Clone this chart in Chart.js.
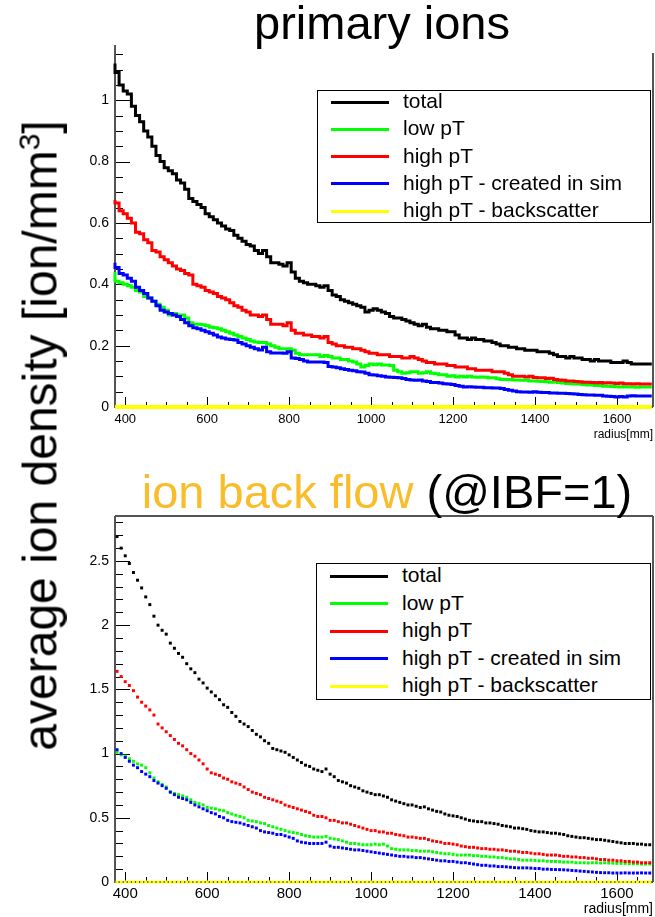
<!DOCTYPE html>
<html>
<head>
<meta charset="utf-8">
<script src="https://cdn.jsdelivr.net/npm/chart.js@4.4.1/dist/chart.umd.min.js"></script>
<style>
  html, body { margin: 0; padding: 0; background: #fff; }
  body { width: 655px; height: 917px; position: relative; overflow: hidden; font-family: "Liberation Sans", Arial, sans-serif; color: #000; }
  canvas { position: absolute; left: 0; }
  #c1 { top: 0; }
  #c2 { top: 460px; }
  .title { position: absolute; width: 800px; text-align: center; font-size: 47px; line-height: 47px; white-space: nowrap; }
  #ylab { position: absolute; width: 700px; left: -310px; top: 412px; text-align: center; font-size: 48px; line-height: 47px; transform: rotate(-90deg); white-space: nowrap; }
  #ylab sup { font-size: 30px; line-height: 0; vertical-align: 17px; }
  .legend { position: absolute; border: 1px solid #000; background: #fff; box-sizing: border-box; }
  .legend .sw { position: absolute; left: 13px; width: 58px; height: 3px; }
  .legend .tx { position: absolute; left: 85px; font-size: 21px; line-height: 24px; white-space: nowrap; }
</style>
</head>
<body>
<canvas id="c1" width="655" height="445"></canvas>
<canvas id="c2" width="655" height="457"></canvas>
<div class="title" style="left:-18px; top:-1px;">primary ions</div>
<div class="title" style="left:-13px; top:468px;"><span style="color:#f9bd2b">ion back flow</span> (@IBF=1)</div>
<div id="ylab">average ion density [ion/mm<sup>3</sup>]</div>
<div class="legend" id="leg1" style="left:317px; top:90px; width:334px; height:133px;"></div>
<div class="legend" id="leg2" style="left:316px; top:563px; width:335px; height:137px;"></div>
<script>
// bins: 10 mm wide, centres 380 .. 1680
const binStart = 380, binWidth = 10, nBins = 131;
const radius = Array.from({ length: nBins }, (_, i) => binStart + i * binWidth);

const seriesNames = ['total', 'low pT', 'high pT', 'high pT - created in sim', 'high pT - backscatter'];
const seriesColors = ['#000000', '#00ff00', '#ff0000', '#0000ff', '#ffff00'];

const xTicks = [400, 600, 800, 1000, 1200, 1400, 1600];
const yTicksPrimary = [0, 0.2, 0.4, 0.6, 0.8, 1];
const yTicksIbf = [0, 0.5, 1, 1.5, 2, 2.5];

// primary ions
const totalPrimary = [
  1.12, 1.09, 1.05, 1.03, 1.02, 0.98, 0.95, 0.93, 0.90, 0.88,
  0.85, 0.82, 0.80, 0.78, 0.77, 0.76, 0.74, 0.73, 0.71, 0.68,
  0.67, 0.66, 0.65, 0.63, 0.62, 0.61, 0.60, 0.59, 0.58, 0.575,
  0.56, 0.55, 0.54, 0.53, 0.525, 0.51, 0.50, 0.51, 0.49, 0.47,
  0.47, 0.465, 0.46, 0.47, 0.44, 0.42, 0.41, 0.405, 0.40, 0.40,
  0.395, 0.39, 0.395, 0.38, 0.365, 0.36, 0.35, 0.345, 0.34, 0.335,
  0.33, 0.325, 0.31, 0.315, 0.32, 0.315, 0.31, 0.305, 0.295, 0.29,
  0.29, 0.285, 0.28, 0.275, 0.27, 0.265, 0.27, 0.26, 0.255, 0.255,
  0.25, 0.25, 0.245, 0.245, 0.235, 0.225, 0.225, 0.22, 0.225, 0.22,
  0.22, 0.215, 0.215, 0.21, 0.205, 0.20, 0.20, 0.195, 0.195, 0.19,
  0.19, 0.185, 0.185, 0.185, 0.18, 0.18, 0.18, 0.175, 0.17, 0.165,
  0.165, 0.16, 0.165, 0.16, 0.16, 0.155, 0.155, 0.15, 0.155, 0.15,
  0.15, 0.15, 0.145, 0.145, 0.145, 0.15, 0.145, 0.14, 0.14, 0.14,
  0.14
];
const lowPtPrimary = [
  0.44, 0.41, 0.405, 0.40, 0.395, 0.39, 0.38, 0.375, 0.36, 0.355,
  0.345, 0.335, 0.325, 0.315, 0.30, 0.305, 0.30, 0.30, 0.29, 0.275,
  0.27, 0.27, 0.268, 0.265, 0.26, 0.258, 0.255, 0.25, 0.245, 0.24,
  0.235, 0.23, 0.225, 0.22, 0.215, 0.212, 0.21, 0.21, 0.205, 0.20,
  0.195, 0.19, 0.19, 0.19, 0.185, 0.175, 0.17, 0.17, 0.17, 0.17,
  0.17, 0.165, 0.168, 0.165, 0.16, 0.16, 0.155, 0.155, 0.15, 0.147,
  0.14, 0.13, 0.135, 0.14, 0.138, 0.14, 0.137, 0.137, 0.135, 0.12,
  0.115, 0.11, 0.112, 0.115, 0.115, 0.11, 0.112, 0.115, 0.11, 0.108,
  0.105, 0.105, 0.10, 0.102, 0.098, 0.10, 0.098, 0.10, 0.098, 0.097,
  0.098, 0.097, 0.095, 0.095, 0.092, 0.09, 0.09, 0.09, 0.088, 0.088,
  0.087, 0.087, 0.085, 0.085, 0.084, 0.083, 0.082, 0.081, 0.082, 0.08,
  0.078, 0.077, 0.076, 0.075, 0.075, 0.073, 0.072, 0.072, 0.07, 0.07,
  0.068, 0.068, 0.067, 0.066, 0.065, 0.066, 0.065, 0.065, 0.064, 0.065,
  0.065
];
const highPtPrimary = [
  0.675, 0.665, 0.64, 0.63, 0.615, 0.60, 0.57, 0.565, 0.545, 0.535,
  0.51, 0.505, 0.49, 0.48, 0.47, 0.46, 0.45, 0.445, 0.435, 0.43,
  0.40, 0.395, 0.39, 0.38, 0.375, 0.37, 0.36, 0.355, 0.35, 0.34,
  0.33, 0.325, 0.315, 0.31, 0.30, 0.30, 0.295, 0.30, 0.285, 0.27,
  0.27, 0.27, 0.265, 0.275, 0.25, 0.24, 0.24, 0.235, 0.235, 0.23,
  0.23, 0.225, 0.23, 0.21, 0.205, 0.20, 0.20, 0.195, 0.195, 0.19,
  0.19, 0.185, 0.18, 0.175, 0.175, 0.17, 0.17, 0.17, 0.165, 0.165,
  0.165, 0.16, 0.16, 0.165, 0.16, 0.155, 0.15, 0.145, 0.145, 0.14,
  0.14, 0.14, 0.135, 0.135, 0.13, 0.13, 0.13, 0.125, 0.125, 0.12,
  0.12, 0.12, 0.12, 0.115, 0.115, 0.115, 0.11, 0.105, 0.10, 0.10,
  0.10, 0.098, 0.10, 0.096, 0.095, 0.095, 0.093, 0.094, 0.09, 0.088,
  0.087, 0.085, 0.085, 0.083, 0.082, 0.081, 0.081, 0.08, 0.079, 0.08,
  0.078, 0.079, 0.078, 0.077, 0.078, 0.076, 0.076, 0.075, 0.076, 0.075,
  0.075
];
const createdPrimary = [
  0.47, 0.455, 0.435, 0.43, 0.42, 0.41, 0.39, 0.38, 0.37, 0.355,
  0.345, 0.33, 0.315, 0.31, 0.305, 0.30, 0.295, 0.285, 0.275, 0.265,
  0.258, 0.255, 0.25, 0.245, 0.24, 0.235, 0.228, 0.225, 0.222, 0.22,
  0.218, 0.21, 0.205, 0.20, 0.195, 0.19, 0.186, 0.195, 0.18, 0.176,
  0.176, 0.176, 0.175, 0.18, 0.16, 0.158, 0.155, 0.15, 0.147, 0.147,
  0.147, 0.147, 0.145, 0.132, 0.13, 0.128, 0.125, 0.122, 0.12, 0.118,
  0.115, 0.114, 0.11, 0.105, 0.104, 0.102, 0.10, 0.098, 0.097, 0.096,
  0.095, 0.093, 0.09, 0.088, 0.087, 0.088, 0.085, 0.083, 0.08, 0.08,
  0.078, 0.076, 0.075, 0.073, 0.07, 0.068, 0.065, 0.066, 0.065, 0.064,
  0.064, 0.063, 0.063, 0.062, 0.062, 0.06, 0.057, 0.055, 0.052, 0.05,
  0.049, 0.049, 0.048, 0.05, 0.048, 0.047, 0.047, 0.046, 0.046, 0.045,
  0.045, 0.044, 0.043, 0.042, 0.041, 0.04, 0.039, 0.039, 0.038, 0.038,
  0.036, 0.035, 0.034, 0.033, 0.034, 0.033, 0.036, 0.037, 0.036, 0.036,
  0.036
];
const backscatterPrimary = [
  0, 0, 0, 0, 0, 0, 0, 0, 0, 0,
  0, 0, 0, 0, 0, 0, 0, 0, 0, 0,
  0, 0, 0, 0, 0, 0, 0, 0, 0, 0,
  0, 0, 0, 0, 0, 0, 0, 0, 0, 0,
  0, 0, 0, 0, 0, 0, 0, 0, 0, 0,
  0, 0, 0, 0, 0, 0, 0, 0, 0, 0,
  0, 0, 0, 0, 0, 0, 0, 0, 0, 0,
  0, 0, 0, 0, 0, 0, 0, 0, 0, 0,
  0, 0, 0, 0, 0, 0, 0, 0, 0, 0,
  0, 0, 0, 0, 0, 0, 0, 0, 0, 0,
  0, 0, 0, 0, 0, 0, 0, 0, 0, 0,
  0, 0, 0, 0, 0, 0, 0, 0, 0, 0,
  0, 0, 0, 0, 0, 0, 0, 0, 0, 0,
  0
];

// ion back flow (@IBF=1)
const totalIbf = [
  2.69, 2.60, 2.54, 2.48, 2.41, 2.35, 2.29, 2.22, 2.16, 2.07,
  2.00, 1.96, 1.93, 1.86, 1.82, 1.78, 1.75, 1.70, 1.66, 1.63,
  1.58, 1.55, 1.51, 1.48, 1.45, 1.42, 1.38, 1.36, 1.32, 1.29,
  1.25, 1.23, 1.21, 1.18, 1.15, 1.13, 1.10, 1.08, 1.04, 1.03,
  1.02, 1.01, 0.99, 0.97, 0.95, 0.93, 0.91, 0.90, 0.88, 0.87,
  0.86, 0.88, 0.84, 0.82, 0.79, 0.78, 0.77, 0.75, 0.74, 0.73,
  0.71, 0.70, 0.69, 0.68, 0.68, 0.67, 0.66, 0.64, 0.63, 0.62,
  0.61, 0.60, 0.60, 0.59, 0.58, 0.585, 0.57, 0.56, 0.55, 0.545,
  0.53, 0.52, 0.515, 0.51, 0.50, 0.49, 0.48, 0.475, 0.47, 0.47,
  0.46, 0.46, 0.455, 0.45, 0.44, 0.435, 0.43, 0.42, 0.42, 0.415,
  0.41, 0.40, 0.395, 0.39, 0.39, 0.385, 0.38, 0.38, 0.375, 0.37,
  0.36, 0.355, 0.35, 0.345, 0.345, 0.34, 0.335, 0.33, 0.33, 0.325,
  0.32, 0.315, 0.31, 0.305, 0.30, 0.30, 0.30, 0.295, 0.295, 0.29,
  0.29
];
const lowPtIbf = [
  1.01, 0.99, 0.98, 0.96, 0.94, 0.92, 0.91, 0.89, 0.85, 0.81,
  0.78, 0.76, 0.74, 0.70, 0.69, 0.68, 0.67, 0.66, 0.64, 0.62,
  0.61, 0.60, 0.58, 0.575, 0.57, 0.56, 0.555, 0.54, 0.53, 0.52,
  0.51, 0.50, 0.48, 0.475, 0.47, 0.46, 0.455, 0.44, 0.43, 0.42,
  0.41, 0.40, 0.39, 0.385, 0.38, 0.37, 0.36, 0.355, 0.35, 0.35,
  0.35, 0.355, 0.34, 0.335, 0.33, 0.32, 0.31, 0.30, 0.30, 0.295,
  0.29, 0.29, 0.29, 0.295, 0.29, 0.295, 0.28, 0.26, 0.255, 0.25,
  0.25, 0.25, 0.245, 0.245, 0.24, 0.24, 0.24, 0.235, 0.23, 0.225,
  0.22, 0.22, 0.215, 0.21, 0.21, 0.21, 0.21, 0.205, 0.205, 0.20,
  0.20, 0.195, 0.195, 0.19, 0.19, 0.185, 0.18, 0.18, 0.175, 0.17,
  0.17, 0.17, 0.168, 0.165, 0.165, 0.162, 0.16, 0.16, 0.158, 0.155,
  0.155, 0.155, 0.15, 0.15, 0.15, 0.148, 0.15, 0.15, 0.148, 0.15,
  0.148, 0.147, 0.145, 0.145, 0.145, 0.143, 0.142, 0.142, 0.14, 0.14,
  0.14
];
const highPtIbf = [
  1.64, 1.60, 1.56, 1.53, 1.49, 1.44, 1.40, 1.37, 1.34, 1.30,
  1.23, 1.20, 1.17, 1.14, 1.11, 1.08, 1.06, 1.03, 1.00, 0.98,
  0.95, 0.92, 0.88, 0.85, 0.84, 0.83, 0.81, 0.80, 0.78, 0.77,
  0.76, 0.74, 0.72, 0.70, 0.69, 0.68, 0.66, 0.65, 0.64, 0.63,
  0.62, 0.60, 0.59, 0.58, 0.57, 0.56, 0.55, 0.54, 0.52, 0.51,
  0.51, 0.50, 0.48, 0.48, 0.47, 0.46, 0.46, 0.45, 0.44, 0.43,
  0.42, 0.41, 0.40, 0.40, 0.39, 0.39, 0.38, 0.38, 0.37, 0.365,
  0.36, 0.35, 0.35, 0.345, 0.34, 0.34, 0.33, 0.32, 0.315, 0.31,
  0.30, 0.30, 0.295, 0.29, 0.28, 0.275, 0.27, 0.27, 0.265, 0.26,
  0.26, 0.255, 0.255, 0.25, 0.25, 0.245, 0.24, 0.24, 0.235, 0.23,
  0.23, 0.225, 0.22, 0.22, 0.215, 0.21, 0.21, 0.21, 0.205, 0.20,
  0.20, 0.195, 0.195, 0.19, 0.19, 0.185, 0.185, 0.18, 0.175, 0.175,
  0.17, 0.17, 0.165, 0.165, 0.16, 0.16, 0.155, 0.155, 0.15, 0.15,
  0.15
];
const createdIbf = [
  1.03, 1.00, 0.97, 0.94, 0.91, 0.89, 0.86, 0.84, 0.82, 0.79,
  0.77, 0.75, 0.73, 0.70, 0.68, 0.66, 0.65, 0.64, 0.62, 0.60,
  0.585, 0.57, 0.555, 0.54, 0.53, 0.51, 0.50, 0.48, 0.47, 0.465,
  0.46, 0.45, 0.44, 0.43, 0.42, 0.40, 0.39, 0.385, 0.38, 0.37,
  0.37, 0.36, 0.35, 0.34, 0.32, 0.31, 0.305, 0.30, 0.30, 0.30,
  0.30, 0.31, 0.28, 0.27, 0.27, 0.265, 0.26, 0.255, 0.25, 0.25,
  0.245, 0.24, 0.235, 0.23, 0.225, 0.22, 0.215, 0.21, 0.205, 0.20,
  0.20, 0.195, 0.195, 0.19, 0.19, 0.185, 0.18, 0.175, 0.17, 0.165,
  0.165, 0.16, 0.16, 0.155, 0.15, 0.15, 0.145, 0.14, 0.135, 0.13,
  0.13, 0.125, 0.125, 0.12, 0.12, 0.118, 0.115, 0.112, 0.11, 0.11,
  0.11, 0.108, 0.105, 0.105, 0.10, 0.10, 0.098, 0.097, 0.096, 0.095,
  0.093, 0.09, 0.088, 0.085, 0.083, 0.08, 0.078, 0.075, 0.073, 0.072,
  0.072, 0.07, 0.07, 0.07, 0.071, 0.07, 0.07, 0.07, 0.071, 0.07,
  0.07
];
const backscatterIbf = [
  0, 0, 0, 0, 0, 0, 0, 0, 0, 0,
  0, 0, 0, 0, 0, 0, 0, 0, 0, 0,
  0, 0, 0, 0, 0, 0, 0, 0, 0, 0,
  0, 0, 0, 0, 0, 0, 0, 0, 0, 0,
  0, 0, 0, 0, 0, 0, 0, 0, 0, 0,
  0, 0, 0, 0, 0, 0, 0, 0, 0, 0,
  0, 0, 0, 0, 0, 0, 0, 0, 0, 0,
  0, 0, 0, 0, 0, 0, 0, 0, 0, 0,
  0, 0, 0, 0, 0, 0, 0, 0, 0, 0,
  0, 0, 0, 0, 0, 0, 0, 0, 0, 0,
  0, 0, 0, 0, 0, 0, 0, 0, 0, 0,
  0, 0, 0, 0, 0, 0, 0, 0, 0, 0,
  0, 0, 0, 0, 0, 0, 0, 0, 0, 0,
  0
];

Chart.defaults.font.family = '"Liberation Sans", Arial, sans-serif';
Chart.defaults.color = '#000';

// ROOT style frame: inward ticks, grey border, small axis title at right
const frame = {
  id: 'frame',
  beforeDatasetsDraw(chart, args, o) {
    const { ctx, chartArea: a, scales: { x, y } } = chart;
    ctx.save();
    ctx.strokeStyle = '#000';
    ctx.lineWidth = 1;
    ctx.beginPath();
    const nMinor = Math.floor(y.max / o.yMinor + 1e-6);
    for (let i = 0; i <= nMinor; i++) {
      const py = Math.round(y.getPixelForValue(i * o.yMinor)) + 0.5;
      const len = i % o.yPer === 0 ? 15 : 8;
      ctx.moveTo(a.left, py);
      ctx.lineTo(a.left + len, py);
    }
    for (let v = 400; v <= x.max; v += 50) {
      const px = Math.round(x.getPixelForValue(v)) + 0.5;
      const len = v % 200 === 0 ? 10 : 5;
      ctx.moveTo(px, a.bottom);
      ctx.lineTo(px, a.bottom - len);
    }
    ctx.stroke();

    ctx.strokeStyle = '#555';
    ctx.lineWidth = 2;
    ctx.beginPath();
    ctx.moveTo(a.left, a.top);
    ctx.lineTo(a.left, a.bottom);
    ctx.lineTo(a.right, a.bottom);
    ctx.moveTo(a.right, a.bottom);
    ctx.lineTo(a.right, a.top + (o.top ? 0 : 8));
    if (o.top) {
      ctx.moveTo(a.left, a.top);
      ctx.lineTo(a.right, a.top);
    }
    ctx.stroke();

    ctx.fillStyle = '#000';
    ctx.font = o.rFont + 'px "Liberation Sans", Arial, sans-serif';
    ctx.textAlign = 'right';
    ctx.textBaseline = 'alphabetic';
    ctx.fillText('radius[mm]', a.right, o.rY);
    ctx.restore();
  }
};

function stepData(vals) {
  const pts = radius.map((r, i) => ({ x: r - binWidth / 2, y: vals[i] }));
  pts.push({ x: radius[nBins - 1] + binWidth / 2, y: vals[nBins - 1] });
  return pts;
}
function pointData(vals) {
  return radius.map((r, i) => ({ x: r, y: vals[i] }));
}

function makeChart(id, cfg) {
  const datasets = cfg.series.map((vals, k) => {
    const base = { label: seriesNames[k], order: k === 4 ? 0 : 4 - k, clip: false };
    if (cfg.steps) {
      return Object.assign(base, {
        data: stepData(vals), borderColor: seriesColors[k], borderWidth: k === 4 ? 4 : 3,
        stepped: 'after', pointRadius: 0, fill: false
      });
    }
    return Object.assign(base, {
      data: pointData(vals), showLine: false, pointStyle: 'rect', pointRadius: 2.1,
      pointBackgroundColor: seriesColors[k], pointBorderWidth: 0
    });
  });
  return new Chart(document.getElementById(id), {
    type: 'line',
    data: { datasets },
    options: {
      responsive: false,
      animation: false,
      layout: { autoPadding: false, padding: { left: 65, right: 2, top: cfg.padTop, bottom: 0 } },
      plugins: {
        legend: { display: false },
        tooltip: { enabled: false },
        frame: cfg.frame
      },
      scales: {
        x: {
          type: 'linear', min: 375, max: 1688,
          grid: { display: false, drawTicks: false },
          border: { display: false },
          ticks: { font: { size: cfg.xFont }, padding: cfg.xPad, maxRotation: 0, autoSkip: false, callback: v => String(v) },
          afterBuildTicks: s => { s.ticks = xTicks.map(v => ({ value: v })); },
          afterFit: s => { s.height = cfg.xHeight; }
        },
        y: {
          type: 'linear', min: 0, max: cfg.yMax,
          grid: { display: false, drawTicks: false },
          border: { display: false },
          ticks: { font: { size: 14 }, padding: 6, autoSkip: false, callback: v => String(v) },
          afterBuildTicks: s => { s.ticks = cfg.yTicks.map(v => ({ value: v })); },
          afterFit: s => { s.width = 50; }
        }
      }
    },
    plugins: [frame]
  });
}

makeChart('c1', {
  series: [totalPrimary, lowPtPrimary, highPtPrimary, createdPrimary, backscatterPrimary],
  steps: true, yMax: 1.18, yTicks: yTicksPrimary, padTop: 45, xHeight: 38, xFont: 13, xPad: 5,
  frame: { yMinor: 0.05, yPer: 4, top: false, rFont: 12, rY: 438 }
});
makeChart('c2', {
  series: [totalIbf, lowPtIbf, highPtIbf, createdIbf, backscatterIbf],
  steps: false, yMax: 2.85, yTicks: yTicksIbf, padTop: 56, xHeight: 35, xFont: 15, xPad: 3,
  frame: { yMinor: 0.1, yPer: 5, top: true, rFont: 14, rY: 453 }
});

function buildLegend(id, first, gap) {
  const box = document.getElementById(id);
  seriesNames.forEach((name, i) => {
    const c = first + gap * i;
    const sw = document.createElement('div');
    sw.className = 'sw';
    sw.style.top = (c - 1.5) + 'px';
    sw.style.background = seriesColors[i];
    const tx = document.createElement('div');
    tx.className = 'tx';
    tx.style.top = (c - 13) + 'px';
    tx.textContent = name;
    box.appendChild(sw);
    box.appendChild(tx);
  });
}
buildLegend('leg1', 11, 27.25);
buildLegend('leg2', 12, 27.5);
</script>
</body>
</html>
